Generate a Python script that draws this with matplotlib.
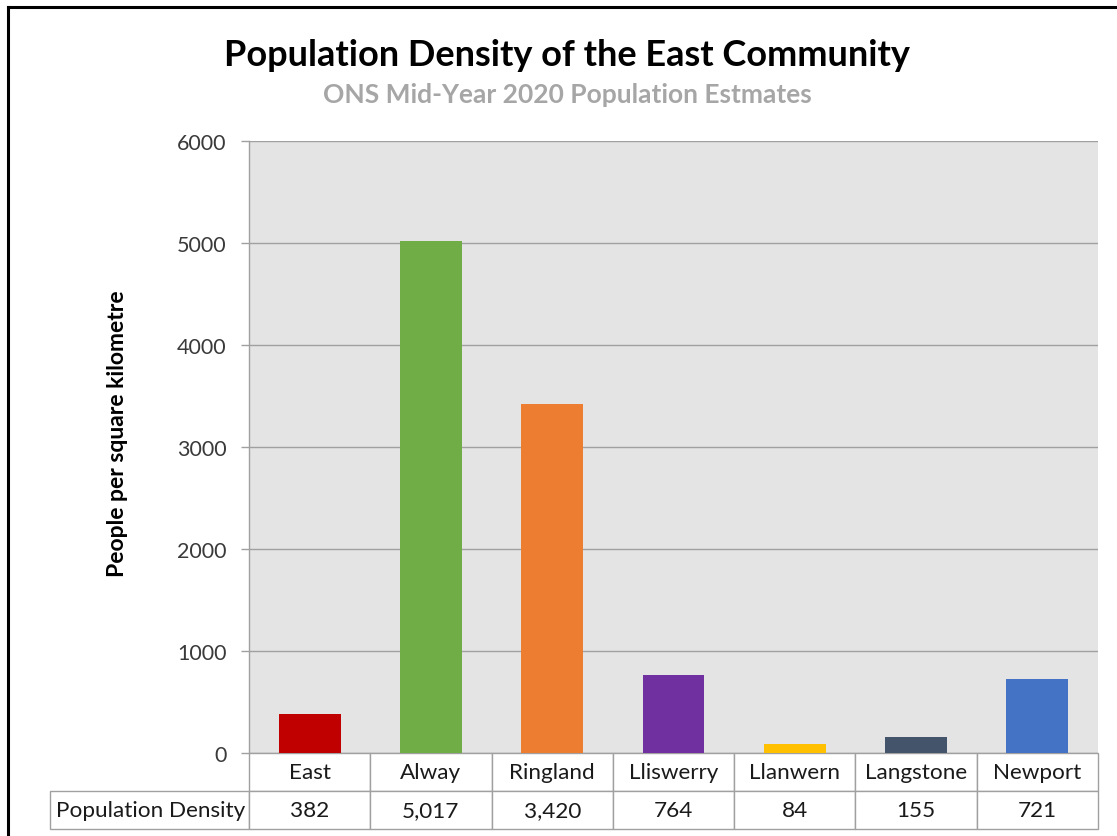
import matplotlib
matplotlib.use("Agg")
import matplotlib.pyplot as plt
from matplotlib.lines import Line2D

plt.rcParams['font.family'] = ['Lato', 'DejaVu Sans']

categories = ["East", "Alway", "Ringland", "Lliswerry", "Llanwern", "Langstone", "Newport"]
values = [382, 5017, 3420, 764, 84, 155, 721]
value_labels = ["382", "5,017", "3,420", "764", "84", "155", "721"]
colors = ["#C00000", "#70AD47", "#ED7D31", "#7030A0", "#FFC000", "#44546A", "#4472C4"]
yticks = [0, 1000, 2000, 3000, 4000, 5000, 6000]
row_label = "Population Density"

W, H = 1117, 837
fig = plt.figure(figsize=(W / 100, H / 100), dpi=100)
fig.patch.set_facecolor("white")

ax_l, ax_r, ax_t, ax_b = 249, 1098, 142, 754
ax = fig.add_axes([ax_l / W, 1 - ax_b / H, (ax_r - ax_l) / W, (ax_b - ax_t) / H])
ax.set_facecolor("#E4E4E4")

x = list(range(len(categories)))
ax.bar(x, values, width=0.51, color=colors, zorder=3)
ax.set_xlim(-0.5, len(categories) - 0.5)
ax.set_ylim(0, 6000)
ax.set_yticks(yticks)
ax.set_yticklabels([str(t) for t in yticks], fontsize=15.5, color="#3a3a3a")
ax.set_xticks([])
ax.yaxis.grid(True, color="#A0A0A0", linewidth=1.0, zorder=1)
ax.set_axisbelow(True)
for s in ["top", "right", "bottom"]:
    ax.spines[s].set_visible(False)
ax.spines["left"].set_color("#A0A0A0")
ax.spines["left"].set_linewidth(1.0)
ax.tick_params(axis="y", length=6, width=1.0, color="#A0A0A0", pad=10)

# data table
axw = ax_r - ax_l
axh = ax_b - ax_t
tl = 50
row_h = 38
col_w = 1.0 / len(categories)
tbl = ax.table(cellText=[value_labels], rowLabels=[row_label], colLabels=categories,
               cellLoc="center", rowLoc="left",
               colWidths=[col_w] * len(categories),
               bbox=[0, -2 * row_h / axh, 1, 2 * row_h / axh])
tbl._autoColumns = []
tbl[(1, -1)].set_width((ax_l - tl) / axw)
tbl.auto_set_font_size(False)
tbl.set_fontsize(16.2)
for (r, c), cell in tbl.get_celld().items():
    cell.set_edgecolor("#A0A0A0")
    cell.set_linewidth(1.0)
    cell.get_text().set_color("#1a1a1a")
    if c == -1:
        cell.PAD = 0.03

# titles
fig.text(567 / W, 1 - 55 / H, "Population Density of the East Community", ha="center", va="center",
         fontsize=26, fontweight="bold", color="black")
fig.text(567 / W, 1 - 95 / H, "ONS Mid-Year 2020 Population Estmates", ha="center", va="center",
         fontsize=19, fontweight="bold", color="#A6A6A6")
fig.text(118 / W, 1 - 434 / H, "People per square kilometre", ha="center", va="center",
         rotation=90, fontsize=16.5, fontweight="bold", color="black")

# outer frame (left and top edges)
fig.add_artist(Line2D([8 / W, 8 / W], [0, 1 - 8 / H], transform=fig.transFigure, color="black", linewidth=2.2))
fig.add_artist(Line2D([8 / W, 1], [1 - 8 / H, 1 - 8 / H], transform=fig.transFigure, color="black", linewidth=2.2))

fig.savefig("out.png", dpi=100)
